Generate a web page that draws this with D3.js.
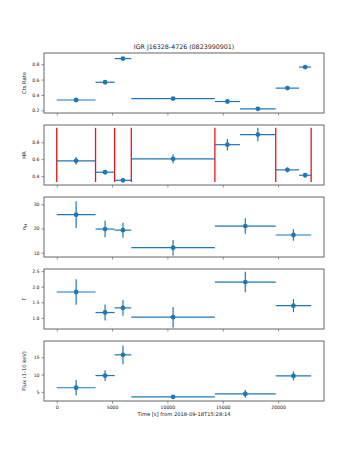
<!DOCTYPE html>
<html>
<head>
<meta charset="utf-8">
<script src="https://cdn.jsdelivr.net/npm/d3@7"></script>
<style>
  body { margin: 0; background: #fff; }
  svg { display: block; }
  .tick text { font-family: 'DejaVu Sans', sans-serif; fill: #222; }
</style>
</head>
<body>
<div id="chart"></div>
<script>
// light curve bins (8 bins)
const rateTime = [1753, 4368, 5984, 10515, 15423, 18172, 20846, 22446];
const rateTimeErr = [1753, 861, 755, 3775, 1133, 1617, 1057, 543];
const rate = [0.335, 0.565, 0.872, 0.353, 0.315, 0.22, 0.489, 0.762];
const rateErr = [0.012, 0.015, 0.02, 0.008, 0.015, 0.015, 0.018, 0.02];
const hr = [0.58, 0.444, 0.348, 0.604, 0.772, 0.892, 0.472, 0.408];
const hrErr = [0.045, 0.02, 0.02, 0.054, 0.068, 0.08, 0.03, 0.025];

// spectral bins (6 blocks)
const blockEdges = [0, 3507, 5229, 6739, 14290, 19789, 22990];
const specTime = [1753, 4368, 5984, 10515, 17040, 21390];
const specTimeErr = [1753, 861, 755, 3775, 2750, 1600];
const nh = [25.7, 19.75, 19.3, 12.07, 21.0, 17.3];
const nhErr = [5.5, 3.4, 3.1, 3.2, 3.2, 2.4];
const gamma = [1.83, 1.17, 1.32, 1.02, 2.15, 1.39];
const gammaErr = [0.41, 0.26, 0.25, 0.33, 0.33, 0.21];
const flux = [6.18, 9.7, 15.7, 3.53, 4.4, 9.6];
const fluxErr = [2.25, 1.57, 2.7, 0.4, 1.1, 1.3];

const xTicks = [0, 5000, 10000, 15000, 20000];

const width = 360, height = 450;
const left = 44, right = 324, panelH = 60;
const blue = '#1f77b4';

const panels = [
  {top: 53, label: 'Cts Rate', t: rateTime, te: rateTimeErr, y: rate, ye: rateErr,
   domain: [0.166, 0.945], ticks: [0.2, 0.4, 0.6, 0.8], fmt: d3.format('.1f')},
  {top: 125, label: 'HR', t: rateTime, te: rateTimeErr, y: hr, ye: hrErr,
   domain: [0.292, 1.006], ticks: [0.4, 0.6, 0.8], fmt: d3.format('.1f'), edges: true},
  {top: 197, label: 'nH', t: specTime, te: specTimeErr, y: nh, ye: nhErr,
   domain: [8.2, 33.0], ticks: [10, 20, 30], fmt: d3.format('d')},
  {top: 269, label: 'Γ', t: specTime, te: specTimeErr, y: gamma, ye: gammaErr,
   domain: [0.64, 2.57], ticks: [1.0, 1.5, 2.0, 2.5], fmt: d3.format('.1f')},
  {top: 341, label: 'Flux (1-10 keV)', t: specTime, te: specTimeErr, y: flux, ye: fluxErr,
   domain: [2.35, 19.7], ticks: [5, 10, 15], fmt: d3.format('d')},
];

const svg = d3.select('#chart').append('svg')
  .attr('width', width)
  .attr('height', height);

const x = d3.scaleLinear().domain([-1150, 24150]).range([left, right]);

panels.forEach(function(p, i) {
  const y = d3.scaleLinear().domain(p.domain).range([p.top + panelH, p.top]);
  const g = svg.append('g');

  // clip so the top tick of gamma can sit on the frame
  const rows = p.y.map(function(v, k) {
    return {t: p.t[k], te: p.te[k], v: v, ve: p.ye[k]};
  });

  if (p.edges) {
    const lo = d3.min(rows, d => d.v - d.ve);
    const hi = d3.max(rows, d => d.v + d.ve);
    g.selectAll('.edge').data(blockEdges).enter().append('line')
      .attr('class', 'edge')
      .attr('x1', d => x(d)).attr('x2', d => x(d))
      .attr('y1', y(lo)).attr('y2', y(hi))
      .attr('stroke', '#e8141a')
      .attr('stroke-width', 1.3);
  }

  const pts = g.selectAll('.pt').data(rows).enter().append('g').attr('class', 'pt');
  pts.append('line')
    .attr('x1', d => x(d.t - d.te)).attr('x2', d => x(d.t + d.te))
    .attr('y1', d => y(d.v)).attr('y2', d => y(d.v))
    .attr('stroke', blue).attr('stroke-width', 1.2);
  pts.append('line')
    .attr('x1', d => x(d.t)).attr('x2', d => x(d.t))
    .attr('y1', d => y(d.v - d.ve)).attr('y2', d => y(d.v + d.ve))
    .attr('stroke', blue).attr('stroke-width', 1.2);
  pts.append('circle')
    .attr('cx', d => x(d.t)).attr('cy', d => y(d.v))
    .attr('r', 2.4).attr('fill', blue);

  // axes
  const yAxis = d3.axisLeft(y).tickValues(p.ticks).tickFormat(p.fmt)
    .tickSize(2.5).tickPadding(2);
  const ya = svg.append('g')
    .attr('transform', 'translate(' + left + ',0)')
    .call(yAxis);
  ya.select('.domain').remove();
  ya.selectAll('line').attr('stroke', '#444').attr('stroke-width', 0.6);
  ya.selectAll('text').style('font-size', '4.6px');

  const xAxis = d3.axisBottom(x).tickValues(xTicks)
    .tickSize(2.5).tickPadding(2)
    .tickFormat(i === panels.length - 1 ? d3.format('d') : '');
  const xa = svg.append('g')
    .attr('transform', 'translate(0,' + (p.top + panelH) + ')')
    .call(xAxis);
  xa.select('.domain').remove();
  xa.selectAll('line').attr('stroke', '#444').attr('stroke-width', 0.6);
  xa.selectAll('text').style('font-size', '4.6px');

  // frame
  svg.append('rect')
    .attr('x', left).attr('y', p.top)
    .attr('width', right - left).attr('height', panelH)
    .attr('fill', 'none')
    .attr('stroke', '#555')
    .attr('stroke-width', 0.9);

  // y label
  const lab = svg.append('text')
    .attr('transform', 'translate(26,' + (p.top + panelH / 2) + ') rotate(-90)')
    .attr('text-anchor', 'middle')
    .style('font-family', "'DejaVu Sans', sans-serif")
    .style('font-size', '5.2px')
    .attr('fill', '#222');
  if (p.label === 'nH') {
    lab.append('tspan').text('n');
    lab.append('tspan').attr('dy', 1.2).style('font-size', '3.8px').text('H');
  } else {
    lab.text(p.label);
  }
});

svg.append('text')
  .attr('x', (left + right) / 2).attr('y', 49)
  .attr('text-anchor', 'middle')
  .style('font-family', "'DejaVu Sans', sans-serif")
  .style('font-size', '6.3px')
  .attr('fill', '#222')
  .text('IGR J16328-4726 (0823990901)');

svg.append('text')
  .attr('x', (left + right) / 2).attr('y', 416)
  .attr('text-anchor', 'middle')
  .style('font-family', "'DejaVu Sans', sans-serif")
  .style('font-size', '5.2px')
  .attr('fill', '#222')
  .text('Time [s] from 2018-09-18T15:28:14');
</script>
</body>
</html>
